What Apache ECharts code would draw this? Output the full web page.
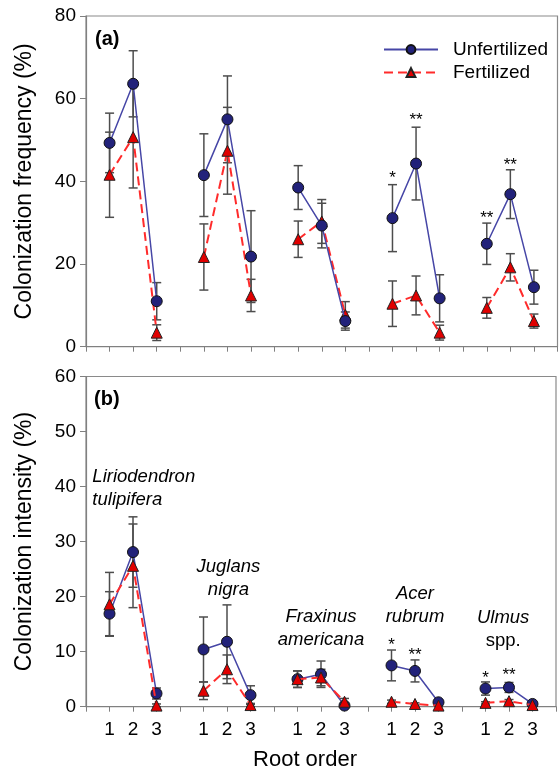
<!DOCTYPE html>
<html>
<head>
<meta charset="utf-8">
<script src="https://cdn.jsdelivr.net/npm/echarts@6/dist/echarts.min.js"></script>
<style>
html,body{margin:0;padding:0;background:#fff;}
#chart{width:559px;height:771px;}
</style>
</head>
<body>
<div id="chart"></div>
<script>
// ---- data ----
var rootOrders = ['1', '2', '3'];
var species = ['Liriodendron tulipifera', 'Juglans nigra', 'Fraxinus americana', 'Acer rubrum', 'Ulmus spp.'];
// x positions: 3 root orders per species, one empty slot between species
var xPos = [1, 2, 3, 5, 6, 7, 9, 10, 11, 13, 14, 15, 17, 18, 19];
var tickLabels = ['', '1', '2', '3', '', '1', '2', '3', '', '1', '2', '3', '', '1', '2', '3', '', '1', '2', '3', ''];

// (a) Colonization frequency (%)
var freqUnf    = [49.3, 63.6, 11.0, 41.5, 55.0, 21.8, 38.5, 29.3, 6.2, 31.1, 44.3, 11.7, 24.9, 36.9, 14.4];
var freqUnfErr = [7.2, 8.0, 4.5, 10.0, 10.5, 11.1, 5.3, 5.4, 2.2, 8.1, 8.8, 5.7, 5.0, 5.9, 4.1];
var freqFert    = [41.6, 50.7, 3.4, 21.7, 47.4, 12.4, 26.0, 30.3, 7.7, 10.4, 12.4, 3.4, 9.4, 19.2, 6.2];
var freqFertErr = [10.3, 12.3, 1.9, 8.0, 10.5, 3.9, 4.4, 5.3, 3.2, 5.5, 4.7, 1.8, 2.5, 3.3, 1.7];

// (b) Colonization intensity (%)
var intUnf    = [16.9, 28.1, 2.4, 10.4, 11.8, 2.1, 5.0, 5.9, 0.2, 7.5, 6.5, 0.8, 3.3, 3.5, 0.5];
var intUnfErr = [4.0, 6.4, 1.0, 5.9, 6.7, 1.7, 1.5, 2.4, 0.4, 2.8, 2.0, 0.4, 1.2, 0.9, 0.3];
var intFert    = [18.6, 25.6, 0.2, 2.9, 6.8, 0.3, 5.0, 5.3, 0.9, 0.9, 0.5, 0.2, 0.7, 1.0, 0.3];
var intFertErr = [5.8, 7.6, 0.3, 1.6, 2.6, 0.3, 1.5, 1.5, 0.6, 0.3, 0.2, 0.1, 0.2, 0.3, 0.1];

// significance marks (position index into xPos, label)
var freqSigIdx = [9, 10, 12, 13];
var freqSig    = ['*', '**', '**', '**'];
var freqSigY   = [42.0, 56.0, 32.2, 45.1];
var intSigIdx = [9, 10, 12, 13];
var intSig    = ['*', '**', '*', '**'];
var intSigY   = [12.1, 10.3, 6.1, 6.7];

// ---- helpers ----
var FONT = '"Liberation Sans", Arial, Helvetica, sans-serif';
function lineData(vals) {
  var out = [];
  for (var i = 0; i < xPos.length; i++) {
    if (i > 0 && xPos[i] - xPos[i - 1] > 1) out.push([xPos[i] - 1, '-']);
    out.push([xPos[i], vals[i]]);
  }
  return out;
}
function errData(vals, errs) {
  return xPos.map(function (x, i) { return [x, Math.max(0, vals[i] - errs[i]), vals[i] + errs[i]]; });
}
function errRender(params, api) {
  var x = api.value(0), lo = api.value(1), hi = api.value(2);
  var p1 = api.coord([x, hi]), p2 = api.coord([x, lo]);
  var w = 4.5;
  var st = { stroke: '#4d4d4d', lineWidth: 1.5 };
  return {
    type: 'group', children: [
      { type: 'line', shape: { x1: p1[0], y1: p1[1], x2: p2[0], y2: p2[1] }, style: st },
      { type: 'line', shape: { x1: p1[0] - w, y1: p1[1], x2: p1[0] + w, y2: p1[1] }, style: st },
      { type: 'line', shape: { x1: p2[0] - w, y1: p2[1], x2: p2[0] + w, y2: p2[1] }, style: st }
    ]
  };
}
function sigSeries(idx, labels, ys, xi, yi) {
  return {
    type: 'custom', xAxisIndex: xi, yAxisIndex: yi, z: 5, silent: true,
    data: idx.map(function (k, i) { return [xPos[k], ys[i]]; }),
    encode: { x: 0, y: 1 },
    renderItem: function (params, api) {
      var p = api.coord([api.value(0), api.value(1)]);
      return { type: 'text', x: p[0], y: p[1] + 5, style: { text: labels[params.dataIndex], fill: '#000', font: '17px ' + FONT, textAlign: 'center', textVerticalAlign: 'middle' } };
    }
  };
}
// species labels placed in panel (b) data coordinates
var spLabelPos = [[0.27, 39.7, 'left'], [6.06, 23.3, 'center'], [10.0, 14.25, 'center'], [14.0, 18.4, 'center'], [17.75, 14.1, 'center']];
function speciesSeries() {
  return {
    type: 'custom', xAxisIndex: 1, yAxisIndex: 1, z: 5, silent: true,
    data: spLabelPos.map(function (p) { return [p[0], p[1]]; }),
    encode: { x: 0, y: 1 },
    renderItem: function (params, api) {
      var p = api.coord([api.value(0), api.value(1)]);
      var parts = species[params.dataIndex].split(' ');
      var second = parts[1] === 'spp.' ? '{n|spp.}' : '{i|' + parts[1] + '}';
      return {
        type: 'text', x: p[0], y: p[1],
        style: {
          text: '{i|' + parts[0] + '}\n' + second,
          textAlign: spLabelPos[params.dataIndex][2], textVerticalAlign: 'middle',
          rich: {
            i: { font: 'italic 18.5px ' + FONT, fill: '#000', lineHeight: 23 },
            n: { font: '18.5px ' + FONT, fill: '#000', lineHeight: 23 }
          }
        }
      };
    }
  };
}

var unfLine = { color: '#4646a6', width: 1.5 };
var unfItem = { color: '#22227a', borderColor: '#111', borderWidth: 1 };
var ferLine = { color: '#ff2b2b', width: 2, type: [9, 5] };
var ferItem = { color: '#e00000', borderColor: '#222', borderWidth: 1 };

function xAxisCfg(gi, showLabels) {
  return {
    type: 'value', gridIndex: gi, min: 0, max: 20, interval: 1,
    axisLine: { show: true, lineStyle: { color: '#808080', width: 1.2 } },
    axisTick: { show: true, length: 5, lineStyle: { color: '#808080' } },
    splitLine: { show: false },
    axisLabel: {
      show: showLabels, margin: 14, fontSize: 19, color: '#000', fontFamily: FONT,
      formatter: function (v) { return tickLabels[Math.round(v)] || ''; }
    }
  };
}
function yAxisCfg(gi, max, interval, name) {
  return {
    type: 'value', gridIndex: gi, min: 0, max: max, interval: interval,
    name: name, nameLocation: 'middle', nameGap: 50,
    nameTextStyle: { fontSize: 23, color: '#000', fontFamily: FONT },
    axisLine: { show: true, lineStyle: { color: '#808080', width: 1.2 } },
    axisTick: { show: true, length: 6, lineStyle: { color: '#808080' } },
    splitLine: { show: false },
    axisLabel: { margin: 10, fontSize: 19, color: '#000', fontFamily: FONT }
  };
}

var option = {
  backgroundColor: '#fff',
  animation: false,
  grid: [
    { left: 86, top: 16, width: 471.5, height: 330.7, show: true, borderColor: '#8a8a8a', borderWidth: 1.2 },
    { left: 86, top: 376.5, width: 471.5, height: 330.2, show: true, borderColor: '#8a8a8a', borderWidth: 1.2 }
  ],
  xAxis: [xAxisCfg(0, false), xAxisCfg(1, true)],
  yAxis: [yAxisCfg(0, 80, 20, 'Colonization frequency (%)'), yAxisCfg(1, 60, 10, 'Colonization intensity (%)')],
  legend: {
    orient: 'vertical', left: 378, top: 35, itemWidth: 54, itemHeight: 11, itemGap: 4,
    data: ['Unfertilized', 'Fertilized'],
    textStyle: { fontSize: 19, color: '#000', fontFamily: FONT, padding: [0, 0, 0, 10] }
  },
  graphic: [
    { type: 'text', left: 95, top: 29, style: { text: '(a)', font: 'bold 20px ' + FONT, fill: '#000' } },
    { type: 'text', left: 94, top: 389, style: { text: '(b)', font: 'bold 20px ' + FONT, fill: '#000' } },
    { type: 'text', x: 305, y: 760, style: { text: 'Root order', font: '22px ' + FONT, fill: '#000', textAlign: 'center', textVerticalAlign: 'middle' } }
  ],
  series: [
    { type: 'custom', xAxisIndex: 0, yAxisIndex: 0, z: 1, silent: true, data: errData(freqUnf, freqUnfErr), encode: { x: 0, y: [1, 2] }, renderItem: errRender },
    { type: 'custom', xAxisIndex: 0, yAxisIndex: 0, z: 1, silent: true, data: errData(freqFert, freqFertErr), encode: { x: 0, y: [1, 2] }, renderItem: errRender },
    { type: 'custom', xAxisIndex: 1, yAxisIndex: 1, z: 1, silent: true, data: errData(intUnf, intUnfErr), encode: { x: 0, y: [1, 2] }, renderItem: errRender },
    { type: 'custom', xAxisIndex: 1, yAxisIndex: 1, z: 1, silent: true, data: errData(intFert, intFertErr), encode: { x: 0, y: [1, 2] }, renderItem: errRender },
    { name: 'Fertilized', type: 'line', xAxisIndex: 0, yAxisIndex: 0, z: 3, data: lineData(freqFert), symbol: 'triangle', symbolSize: 11, showAllSymbol: true, connectNulls: false, lineStyle: ferLine, itemStyle: ferItem },
    { name: 'Unfertilized', type: 'line', xAxisIndex: 0, yAxisIndex: 0, z: 4, data: lineData(freqUnf), symbol: 'circle', symbolSize: 11, showAllSymbol: true, connectNulls: false, lineStyle: unfLine, itemStyle: unfItem },
    { name: 'Unfertilized', type: 'line', xAxisIndex: 1, yAxisIndex: 1, z: 3, data: lineData(intUnf), symbol: 'circle', symbolSize: 11, showAllSymbol: true, connectNulls: false, lineStyle: unfLine, itemStyle: unfItem },
    { name: 'Fertilized', type: 'line', xAxisIndex: 1, yAxisIndex: 1, z: 4, data: lineData(intFert), symbol: 'triangle', symbolSize: 11, showAllSymbol: true, connectNulls: false, lineStyle: ferLine, itemStyle: ferItem },
    sigSeries(freqSigIdx, freqSig, freqSigY, 0, 0),
    sigSeries(intSigIdx, intSig, intSigY, 1, 1),
    speciesSeries()
  ]
};
var chart = echarts.init(document.getElementById('chart'), null, { renderer: 'canvas' });
chart.setOption(option);
</script>
</body>
</html>
